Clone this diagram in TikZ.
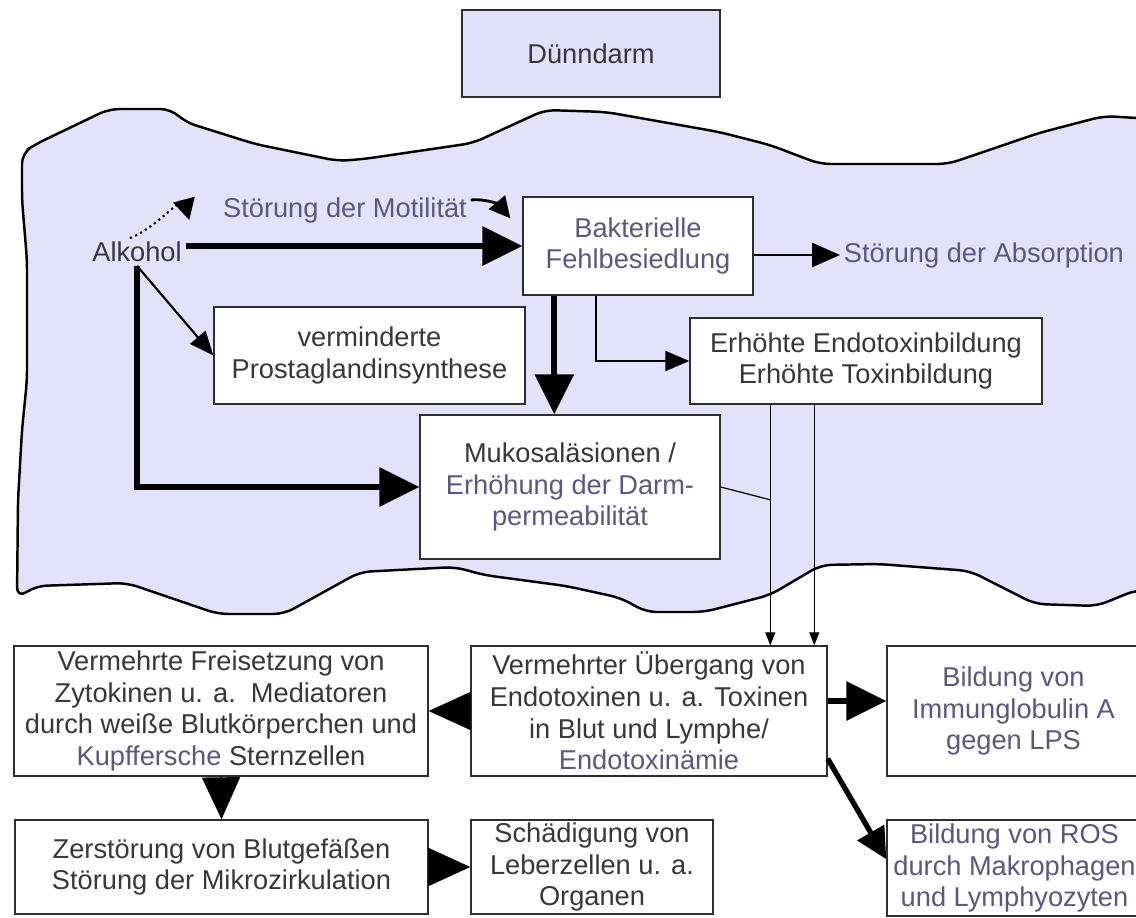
\documentclass[tikz,border=0pt]{standalone}
\usepackage{fontspec}
\setmainfont{Liberation Sans}
\usepackage{tikz}
\usetikzlibrary{arrows.meta}
\definecolor{lila}{RGB}{226,226,250}
\definecolor{lilabox}{RGB}{224,224,248}
\definecolor{schrift}{RGB}{55,55,60}
\definecolor{blauschrift}{RGB}{88,88,130}
\definecolor{rahmen}{RGB}{45,45,50}
\tikzset{kasten/.style={draw=rahmen, fill=white, line width=0.8pt, align=center,
		inner sep=0pt, text=schrift, font=\fontsize{15.5}{18}\selectfont},
	txt/.style={align=center, inner sep=2pt, text=schrift, font=\fontsize{15.5}{18}\selectfont},
	dick/.style={line width=3.6pt, -{Triangle[length=0.8cm,width=0.76cm]}},
	kopf/.style={line width=1pt, -{Triangle[length=0.84cm,width=0.76cm]}},
	mittel/.style={line width=1.6pt, -{Triangle[length=0.56cm,width=0.48cm]}},
	schmal/.style={line width=1.2pt, -{Triangle[length=0.48cm,width=0.4cm]}},
	duenn/.style={line width=0.7pt, -{Triangle[length=0.26cm,width=0.2cm]}}}

\begin{document}
\begin{tikzpicture}[x=0.02cm, y=-0.02cm]
    \useasboundingbox (0,0) rectangle (1136,918);
    \clip (0,0) rectangle (1136,918);
    % Darmwand
    \draw[fill=lila, line width=1.4pt, rounded corners=6pt] (22,153) -- (36,144) -- (109,109) -- (171,109)
        -- (185,122) -- (255,144) -- (338,161) -- (364,159) -- (473,143) -- (545,110) -- (606,112)
        -- (719,132) -- (770,145) -- (820,164) -- (948,164) -- (1039,133) -- (1104,116) -- (1136,118)
        -- (1170,119) -- (1170,592) -- (1136,590) -- (1097,606) -- (1035,604) -- (970,571) -- (879,564)
        -- (821,565) -- (770,595) -- (704,612) -- (646,612) -- (621,598) -- (566,586) -- (484,575)
        -- (455,567) -- (360,572) -- (284,614) -- (218,614) -- (127,583) -- (36,586) -- (17,598)
        -- (18,500) -- (22,430) -- (27,380) -- (27,260) -- (22,200) -- cycle;
    % Kaesten
    \node[kasten, fill=lilabox, minimum width=5.16cm, minimum height=1.74cm] (duenndarm) at (591,53.5) {Dünndarm};
    \node[txt] (alk) at (137,252) {Alkohol};
    \node[txt, text=blauschrift] (moti) at (345,210) {Störung der Motilität};
    \node[kasten, text=blauschrift, minimum width=4.6cm, minimum height=1.96cm] (bakt) at (638,246) {Bakterielle\\Fehlbesiedlung};
    \node[txt, text=blauschrift, anchor=west] (absorp) at (840,255) {Störung der Absorption};
    \node[kasten, minimum width=6.22cm, minimum height=1.94cm] (prost) at (369.5,355.5) {verminderte\\Prostaglandinsynthese};
    \node[kasten, minimum width=7.04cm, minimum height=1.72cm] (endo) at (866,361) {Erhöhte Endotoxinbildung\\Erhöhte Toxinbildung};
    \node[kasten, minimum width=6.0cm, minimum height=2.88cm] (muko) at (570,487) {Mukosaläsionen /\\{\color{blauschrift}Erhöhung der Darm-}\\{\color{blauschrift}permeabilität}};
    \node[kasten, minimum width=8.28cm, minimum height=2.6cm] (frei) at (221,711) {Vermehrte Freisetzung von\\Zytokinen u. a.\ \ Mediatoren\\durch weiße Blutkörperchen und\\{\color{blauschrift}Kupffersche} Sternzellen};
    \node[kasten, minimum width=7.12cm, minimum height=2.6cm] (ueber) at (649,711) {Vermehrter Übergang von\\Endotoxinen u. a. Toxinen\\in Blut und Lymphe/\\{\color{blauschrift}Endotoxinämie}};
    \node[kasten, text=blauschrift, minimum width=5.06cm, minimum height=2.6cm] (immun) at (1013.5,711) {Bildung von\\Immunglobulin A\\gegen LPS};
    \node[kasten, minimum width=8.26cm, minimum height=1.88cm] (zerst) at (221.5,867) {Zerstörung von Blutgefäßen\\Störung der Mikrozirkulation};
    \node[kasten, minimum width=4.84cm, minimum height=1.88cm] (schaed) at (592,867) {Schädigung von\\Leberzellen u. a.\\Organen};
    \node[kasten, text=blauschrift, minimum width=5.1cm, minimum height=1.92cm] (ros) at (1014.5,868) {Bildung von ROS\\durch Makrophagen\\und Lymphyozyten};
    \coordinate (ea) at ([xshift=1.62cm]endo.south west);
    \coordinate (eb) at ([xshift=2.5cm]endo.south west);
    \coordinate (knoten) at (771,500);
    \coordinate (bm) at ([xshift=0.64cm]bakt.south west);
    \coordinate (be) at ([xshift=1.48cm]bakt.south west);
    % Pfeile
    \draw[dotted, line width=1.2pt, -{Triangle[length=0.42cm,width=0.44cm]}] ([xshift=-4pt]alk.north) to[out=20,in=105] ([shift={(-30,10)}]moti.west);
    \draw[line width=1.6pt, -{Triangle[length=0.42cm,width=0.42cm]}] ([yshift=0.2cm]moti.east) to[out=5,in=130] ([shift={(-12,22)}]bakt.north west);
    \draw[dick] (alk.east |- bakt.west) -- (bakt.west);
    \draw[schmal] (alk.south) -- (prost.west);
    \draw[dick, rounded corners=0pt] (alk.south) |- (muko.west);
    \draw[dick] (bm) -- (bm |- muko.north);
    \draw[schmal] (be) |- (endo.west);
    \draw[mittel] (bakt.east |- absorp.west) -- (absorp.west);
    \draw[line width=0.7pt] (muko.east) -- (knoten);
    \draw[duenn] (ea) -- (ea |- ueber.north);
    \draw[duenn] (eb) -- (eb |- ueber.north);
    \draw[kopf] (ueber.west) -- (frei.east);
    \draw[dick] ([yshift=0.2cm]ueber.east) -- ([yshift=0.2cm]ueber.east -| immun.west);
    \draw[line width=3pt, -{Triangle[length=0.62cm,width=0.6cm]}] ([yshift=0.36cm]ueber.south east) -- ([yshift=-0.8cm]ros.north west);
    \draw[kopf] (frei.south) -- (zerst.north);
    \draw[kopf] (zerst.east) -- (schaed.west);
\end{tikzpicture}
\end{document}
